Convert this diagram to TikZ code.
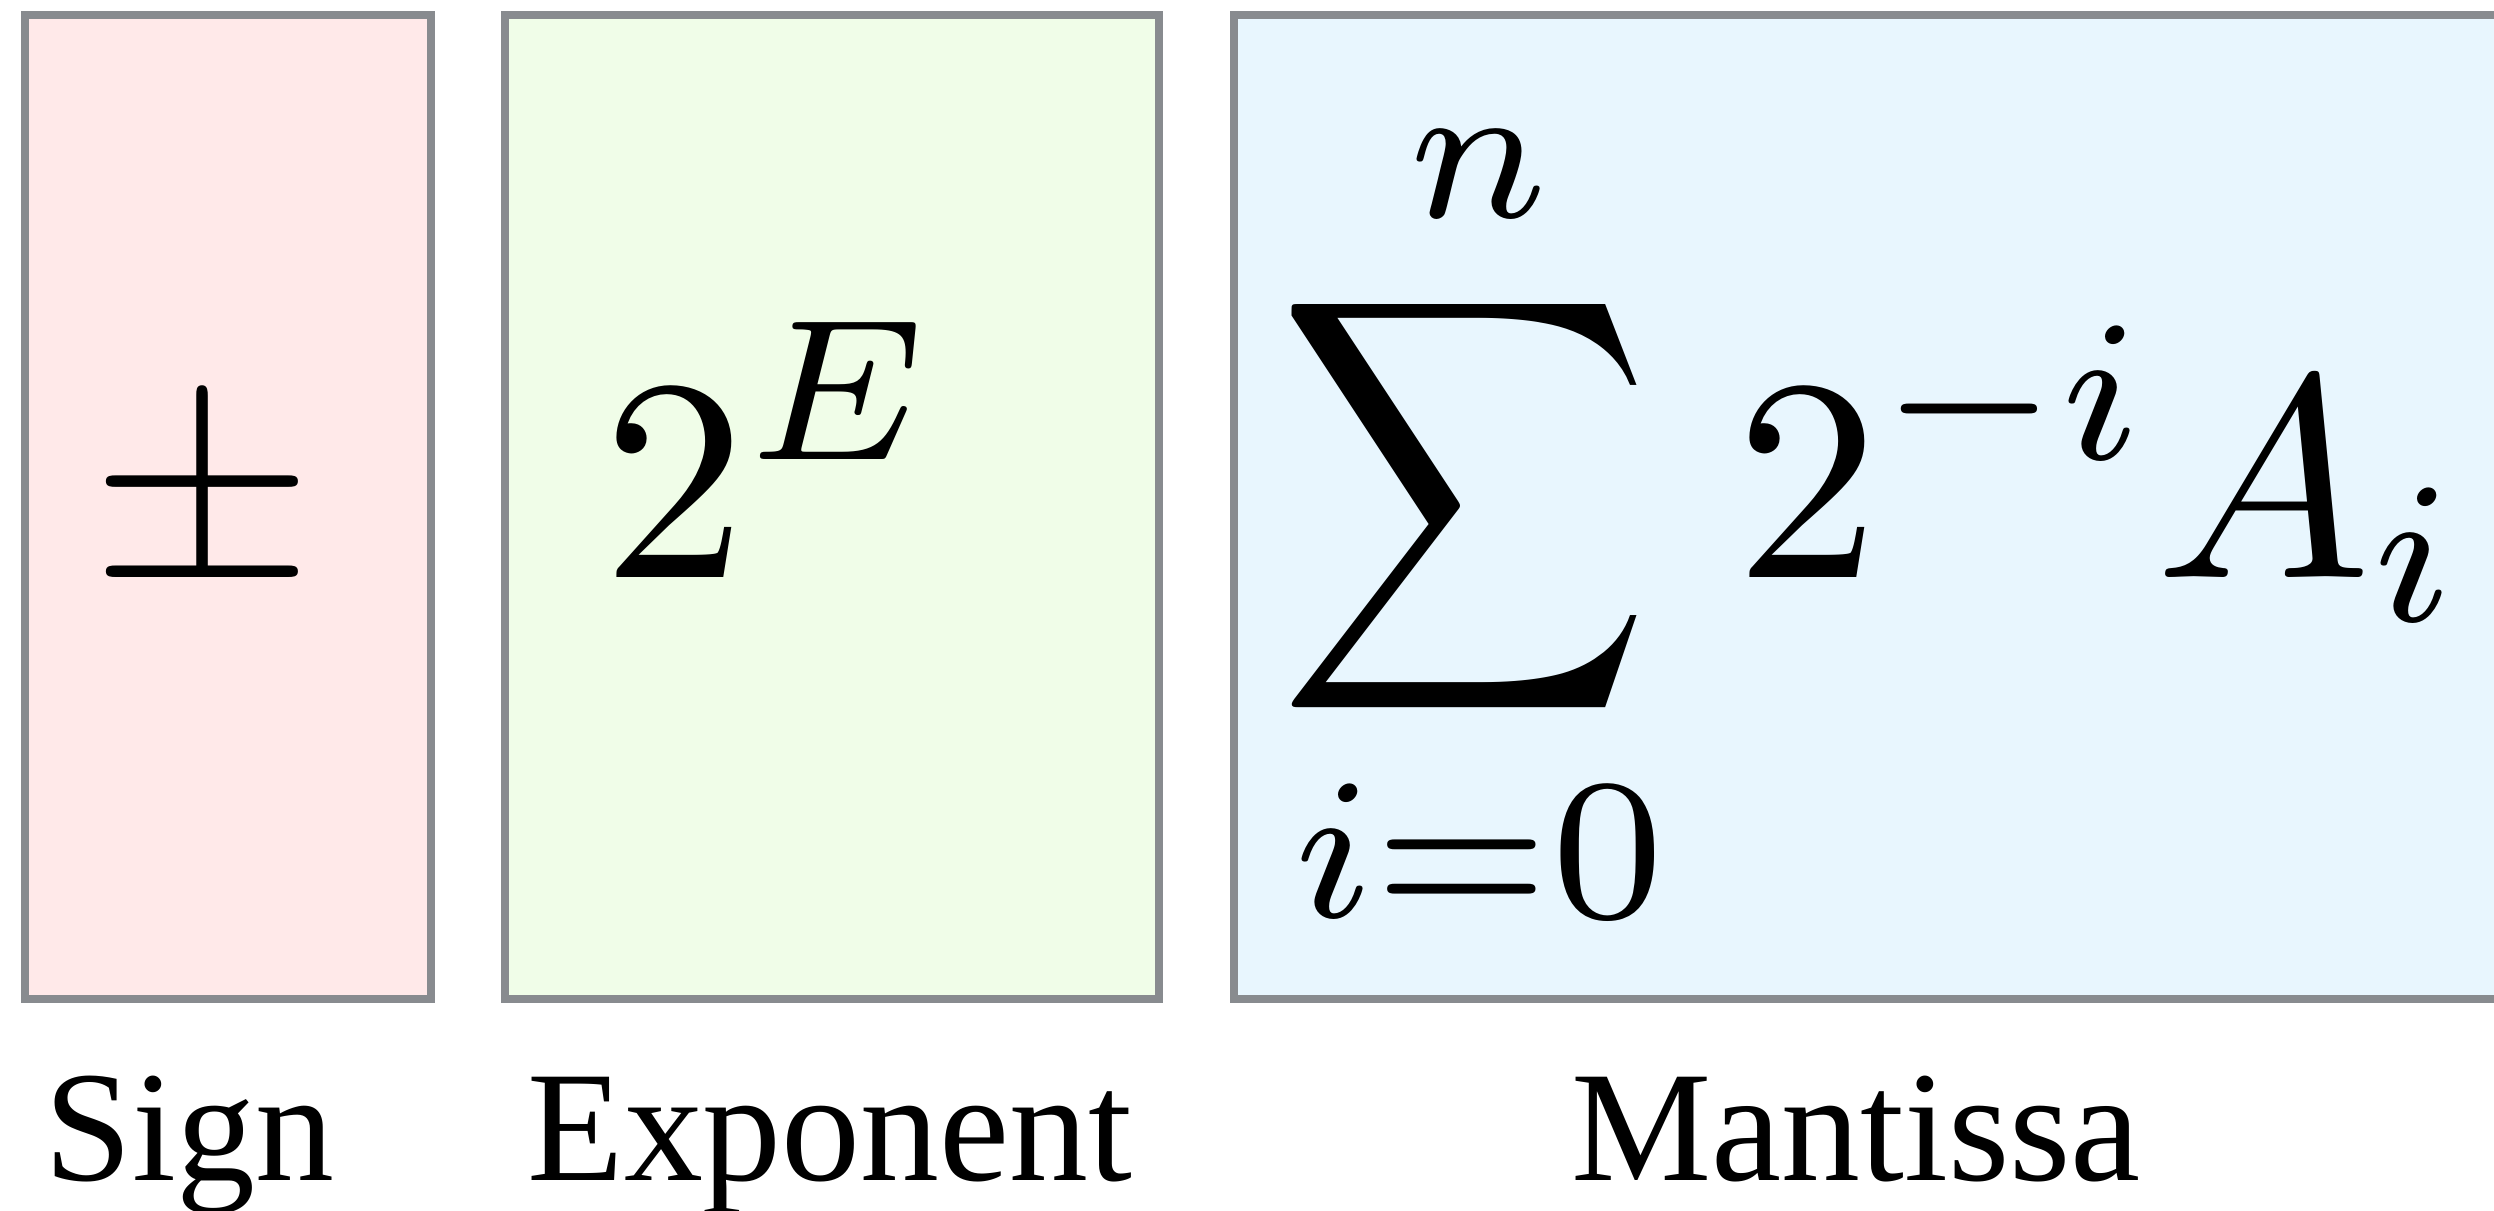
\documentclass[tikz,border=0pt]{standalone}
\usepackage{fontspec}
\setmainfont{Liberation Serif}
\usepackage{graphicx}
\definecolor{signfill}{HTML}{FFE9E9}
\definecolor{expfill}{HTML}{F0FDE8}
\definecolor{mantfill}{HTML}{E8F6FE}
\definecolor{fieldborder}{HTML}{888B8F}
\tikzset{
  field/.style={draw=fieldborder, line width=0.8pt, rectangle, inner sep=0pt, outer sep=0pt, minimum height=98.4pt},
  formula/.style={inner sep=0pt, outer sep=0pt, scale=2.88},
  caption/.style={inner sep=0pt, outer sep=0pt, anchor=base, font=\fontsize{15.78pt}{19pt}\selectfont},
}
\begin{document}
\begin{tikzpicture}[x=0.1pt, y=-0.1pt]
\useasboundingbox (0,0) rectangle (2494,1211);
\clip (0,0) rectangle (2494,1211);
% field boxes
\node[field, fill=signfill, minimum width=40.57pt] (signbox) at (228.2,507) {};
\node[field, fill=expfill, minimum width=65.4pt] (expbox) at (832,507) {};
\node[field, fill=mantfill, minimum width=129.6pt] (mantbox) at (1882,507) {};
% formulas
\node[formula, anchor=base] (signsym) at (202,578) {$\pm$};
\node[formula, anchor=base west] (expsym) at (602,578) {$\displaystyle 2^{E}$};
\node[formula, anchor=base west] (mantsym) at (1277,578)
  {$\displaystyle\mathop{\scalebox{0.9}[1]{$\displaystyle\sum$}}\limits_{\kern0.5pt i=0\kern-0.5pt}^{\kern0.5pt n\kern-0.5pt}\kern1.25pt 2^{-i}A_i$};
% captions
\node[caption] (signlabel) at (189.5,1181) {Sign};
\node[caption] (explabel) at (830,1181) {Exponent};
\node[caption] (mantlabel) at (1856,1181) {Mantissa};
\end{tikzpicture}
\end{document}
